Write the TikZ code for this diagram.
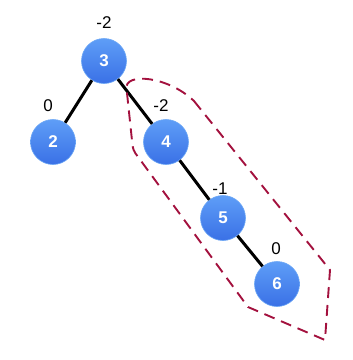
\documentclass[tikz,border=0pt]{standalone}
\usepackage{fontspec}
\setmainfont{Liberation Sans}
\definecolor{nodetop}{HTML}{5E9EF7}
\definecolor{nodebot}{HTML}{3A70E6}
\definecolor{nodeedge}{HTML}{6AA6F5}
\definecolor{dashred}{HTML}{A3113E}
\begin{document}
\begin{tikzpicture}[x=1pt,y=-1pt,
  treenode/.style={circle,minimum size=45pt,inner sep=0pt,top color=nodetop,bottom color=nodebot,draw=nodeedge,line width=0.6pt,text=white,font=\fontsize{17}{17}\selectfont\bfseries},
  bal/.style={font=\fontsize{17}{17}\selectfont,text=black},
  link/.style={line width=3pt,black},
  hull/.style={dashred,line width=1.9pt,dash pattern=on 11pt off 7pt,line join=round}]
\useasboundingbox (0,0) rectangle (353,360);
\node[treenode] (n3) at (104,61) {3};
\node[treenode] (n2) at (53,142) {2};
\node[treenode] (n4) at (166,142) {4};
\node[treenode] (n5) at (223,218) {5};
\node[treenode] (n6) at (277,284) {6};
\draw[link] (n3) -- (n2);
\draw[link] (n3) -- (n4);
\draw[link] (n4) -- (n5);
\draw[link] (n5) -- (n6);
\node[bal] (b3) at (104,23) {-2};
\node[bal] (b2) at (48,106) {0};
\node[bal] (b4) at (161,106) {-2};
\node[bal] (b5) at (220,189) {-1};
\node[bal] (b6) at (276,249) {0};
\coordinate (h1) at (127,93);
\coordinate (h2) at (133,150);
\coordinate (h3) at (248,307);
\coordinate (h4) at (325,340);
\coordinate (h5) at (330,270);
\coordinate (h6) at (194,101);
\draw[hull] (h6) -- (h5) -- (h4) -- (h3) [rounded corners=4pt] -- (h2) -- (h1)
  [sharp corners] .. controls (124,72) and (168,76) .. (h6);
\end{tikzpicture}
\end{document}
